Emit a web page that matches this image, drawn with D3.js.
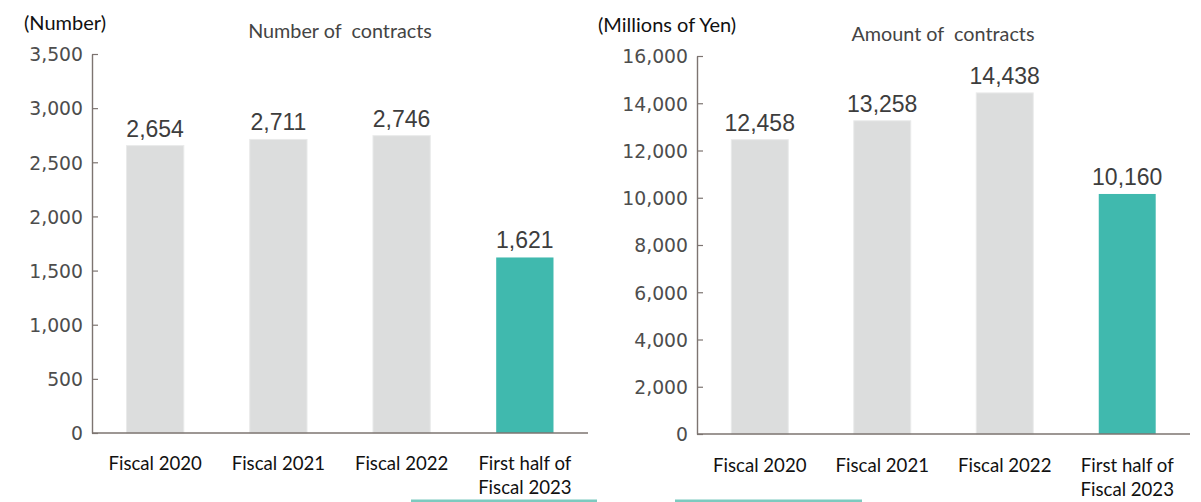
<!DOCTYPE html>
<html>
<head>
<meta charset="utf-8">
<script src="https://cdn.jsdelivr.net/npm/d3@7"></script>
<style>
  html, body { margin: 0; padding: 0; background: #fff; }
  svg { display: block; }
  text { white-space: pre; }
</style>
</head>
<body>
<svg id="chart" width="1201" height="502"></svg>
<script>
// Fiscal periods shown on both panels
const categories = ["Fiscal 2020", "Fiscal 2021", "Fiscal 2022", "First half of\nFiscal 2023"];

// Number of contracts
const contractCounts = [2654, 2711, 2746, 1621];
const countTicks = [0, 500, 1000, 1500, 2000, 2500, 3000, 3500];

// Amount of contracts (millions of yen)
const contractAmounts = [12458, 13258, 14438, 10160];
const amountTicks = [0, 2000, 4000, 6000, 8000, 10000, 12000, 14000, 16000];

const GRAY = "#dcdddd";
const TEAL = "#40b9ae";
const AXIS = "#7d7471";
const fmt = d3.format(",");

const svg = d3.select("#chart");

function panel(cfg) {
  const g = svg.append("g");
  const x = d3.scaleBand()
    .domain(categories)
    .range([cfg.left, cfg.right])
    .paddingInner(0.535)
    .paddingOuter(0.28);
  const y = d3.scaleLinear()
    .domain([0, cfg.ticks[cfg.ticks.length - 1]])
    .range([cfg.bottom, cfg.top]);

  // bars
  g.selectAll("rect.bar")
    .data(cfg.values)
    .join("rect")
    .attr("class", "bar")
    .attr("x", (d, i) => x(categories[i]))
    .attr("width", x.bandwidth())
    .attr("y", d => y(d))
    .attr("height", d => y(0) - y(d))
    .attr("fill", (d, i) => i === categories.length - 1 ? TEAL : GRAY)
    .attr("stroke", (d, i) => i === categories.length - 1 ? "none" : "#e9eaea")
    .attr("stroke-width", 1);

  // y axis with inward ticks
  const yAxis = d3.axisLeft(y)
    .tickValues(cfg.ticks)
    .tickFormat(fmt)
    .tickSizeInner(-6)
    .tickSizeOuter(0)
    .tickPadding(9);
  const ya = g.append("g")
    .attr("transform", `translate(${cfg.left},0)`)
    .call(yAxis);
  ya.select(".domain").attr("stroke", AXIS).attr("stroke-width", 1.4);
  ya.selectAll(".tick line").attr("stroke", AXIS).attr("stroke-width", 1.2);
  ya.selectAll(".tick text")
    .attr("fill", "#4d4d4d")
    .style("font-family", "'DejaVu Sans', sans-serif")
    .style("font-size", "18.8px")
    .attr("dy", "0.36em");

  // baseline
  g.append("line")
    .attr("x1", cfg.left).attr("x2", cfg.right)
    .attr("y1", y(0)).attr("y2", y(0))
    .attr("stroke", AXIS).attr("stroke-width", 1.6);

  // value labels with a white halo
  g.selectAll("text.val")
    .data(cfg.values)
    .join("text")
    .attr("class", "val")
    .attr("x", (d, i) => x(categories[i]) + x.bandwidth() / 2)
    .attr("y", d => y(d) - 9)
    .attr("text-anchor", "middle")
    .style("font-family", "'Liberation Sans', Arial, sans-serif")
    .style("font-size", "23px")
    .attr("fill", "#3d3d3d")
    .attr("stroke", "#fff")
    .attr("stroke-width", 3.5)
    .attr("paint-order", "stroke")
    .text(d => fmt(d));

  // category labels (may wrap onto two lines)
  const cats = g.selectAll("text.cat")
    .data(categories)
    .join("text")
    .attr("class", "cat")
    .attr("text-anchor", "middle")
    .style("font-family", "Lato, 'Open Sans', sans-serif")
    .style("font-size", "18.6px")
    .attr("fill", "#111")
    .attr("transform", d => `translate(${x(d) + x.bandwidth() / 2},${cfg.bottom + cfg.catOffset})`);
  cats.each(function (d) {
    const lines = d.split("\n");
    d3.select(this).selectAll("tspan")
      .data(lines)
      .join("tspan")
      .attr("x", 0)
      .attr("dy", (l, i) => i === 0 ? 0 : 24)
      .text(l => l);
  });

  // unit and title
  g.append("text")
    .attr("x", cfg.unitX).attr("y", cfg.unitY)
    .style("font-family", "Lato, 'Open Sans', sans-serif")
    .style("font-size", "20px")
    .attr("fill", "#111")
    .text(cfg.unit);
  g.append("text")
    .attr("x", cfg.titleX).attr("y", cfg.titleY)
    .attr("text-anchor", "middle")
    .style("font-family", "Lato, 'Open Sans', sans-serif")
    .style("font-size", "19.8px")
    .attr("fill", "#444")
    .text(cfg.title);
}

panel({
  values: contractCounts, ticks: countTicks,
  left: 92, right: 588, top: 54, bottom: 433,
  catOffset: 37,
  unit: "(Number)", unitX: 24, unitY: 30,
  title: "Number of  contracts", titleX: 340, titleY: 38
});

panel({
  values: contractAmounts, ticks: amountTicks,
  left: 697, right: 1190, top: 56, bottom: 434,
  catOffset: 38,
  unit: "(Millions of Yen)", unitX: 598, unitY: 32,
  title: "Amount of  contracts", titleX: 943, titleY: 41
});

// thin teal rules along the bottom edge
const rules = [[411, 597], [675, 862]];
svg.selectAll("rect.rule")
  .data(rules)
  .join("rect")
  .attr("class", "rule")
  .attr("x", d => d[0])
  .attr("width", d => d[1] - d[0])
  .attr("y", 499.5)
  .attr("height", 2.5)
  .attr("fill", "#7ccabf");
</script>
</body>
</html>
